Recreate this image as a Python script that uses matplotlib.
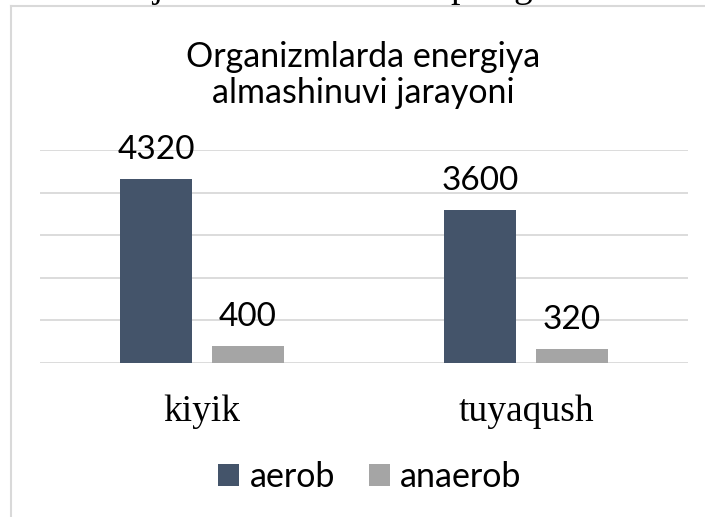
import numpy as np
import matplotlib.pyplot as plt
from matplotlib.lines import Line2D

# data
categories = ['kiyik', 'tuyaqush']
series_names = ['aerob', 'anaerob']
aerob = [4320, 3600]
anaerob = [400, 320]
title_lines = ['Organizmlarda energiya', 'almashinuvi jarayoni']

colors = ['#44546A', '#A5A5A5']
grid_color = '#D9D9D9'
sans = 'Lato'
serif = 'Liberation Serif'

W, H, DPI = 705, 517, 100
fig = plt.figure(figsize=(W / DPI, H / DPI), dpi=DPI)

def px(x, y):
    # pixel coords (from top-left) to figure fraction
    return x / W, 1 - y / H

# plot area: x 40..688, y 150..363
ax = fig.add_axes([40 / W, 1 - 363 / H, 648 / W, 213 / H])

x = np.arange(len(categories))
width = 0.222
offset = 0.142
bars1 = ax.bar(x - offset, aerob, width, color=colors[0], label=series_names[0], zorder=3)
bars2 = ax.bar(x + offset, anaerob, width, color=colors[1], label=series_names[1], zorder=3)

ax.set_xlim(-0.5, len(categories) - 0.5)
ax.set_ylim(0, 5000)
ax.set_yticks(np.arange(0, 5001, 1000))
ax.yaxis.grid(True, color=grid_color, linewidth=1.3, zorder=0)
ax.tick_params(axis='y', left=False, labelleft=False)
ax.set_xticks(x, categories)
ax.tick_params(axis='x', length=0, pad=23)
for lab in ax.get_xticklabels():
    lab.set_fontfamily(serif)
    lab.set_fontsize(27)
for s in ax.spines.values():
    s.set_visible(False)

# value labels above bars
for bars in (bars1, bars2):
    for b in bars:
        ax.annotate(f'{int(b.get_height())}', (b.get_x() + b.get_width() / 2, b.get_height()),
                    xytext=(0, 14.5), textcoords='offset points', ha='center', va='baseline',
                    fontsize=24, family=sans, color='black')

# title
fig.text(*px(363.5, 66.7), title_lines[0], ha='center', va='baseline', fontsize=24.5, family=sans)
fig.text(*px(363.5, 102.7), title_lines[1], ha='center', va='baseline', fontsize=24.5, family=sans)

# legend
fig.legend(loc='center', bbox_to_anchor=px(370, 477), ncol=2, frameon=False,
           prop={'family': sans, 'size': 24.5}, handlelength=0.62, handleheight=0.62,
           handletextpad=0.3, columnspacing=1.0, borderaxespad=0)

# chart frame (left and top edges)
fig.add_artist(Line2D([11 / W, 11 / W], [0, 1 - 5.5 / H], color=grid_color, linewidth=1.5))
fig.add_artist(Line2D([11 / W, 1], [1 - 5.5 / H, 1 - 5.5 / H], color=grid_color, linewidth=1.5))

# clipped descenders of surrounding document text
for ch, cx in [('j', 157), ('p', 460), ('g', 523)]:
    fig.text(*px(cx, -3), ch, ha='center', va='baseline', fontsize=27, family=serif)

fig.savefig('out.png', dpi=DPI)
